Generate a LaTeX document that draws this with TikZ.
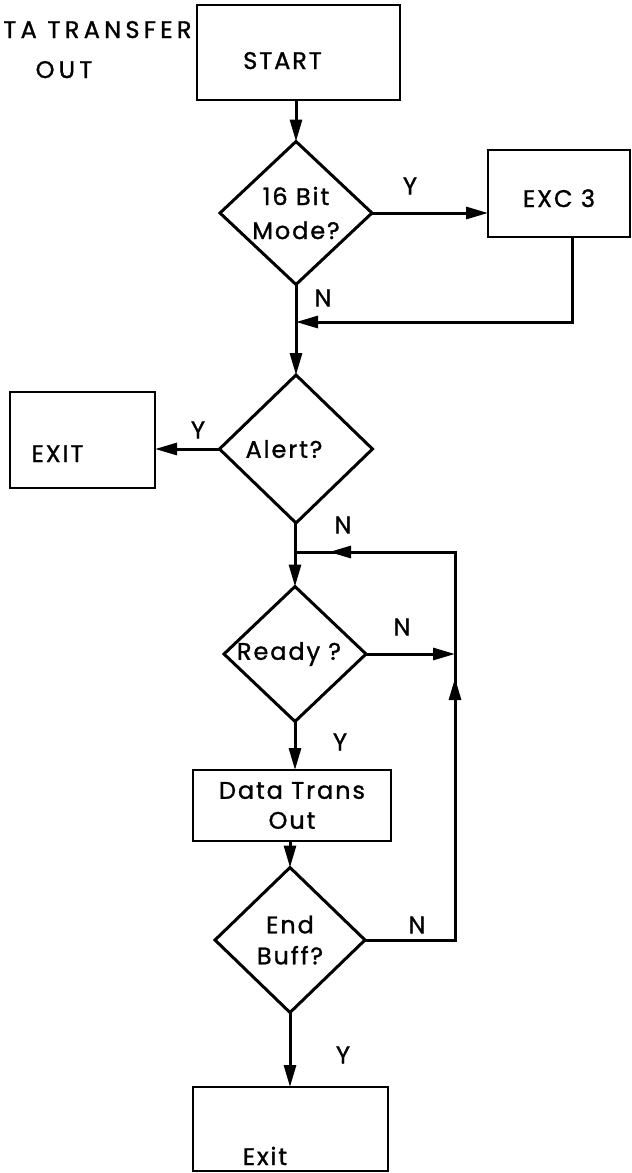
\documentclass[tikz,border=0pt]{standalone}
\usepackage{fontspec}
\setmainfont{Poppins}[LetterSpace=8,FakeBold=1.2]
\newfontfamily\titlefont{Poppins}[LetterSpace=18,FakeBold=1.2]
\usetikzlibrary{shapes.geometric,arrows.meta,decorations.markings}
\begin{document}
\begin{tikzpicture}[x=1pt,y=-1pt,
  line width=3pt,
  every node/.style={font=\fontsize{24}{34}\selectfont},
  box/.style={draw,rectangle,inner sep=0pt,outer sep=0pt,line width=2.8pt},
  dia/.style={draw,diamond,inner sep=-60pt,outer sep=0pt,line width=3pt,align=center},
  tip/.style={-{Triangle[length=22pt,width=12pt]}},
  lab/.style={inner sep=0pt},
  looparrows/.style={postaction={decorate},decoration={markings,
     mark=at position 352pt with {\arrow{Triangle[length=22pt,width=12pt]}},
     mark=at position 604pt with {\arrow{Triangle[length=22pt,width=12pt]}}}}
]
\useasboundingbox (0,0) rectangle (632,1173);

% title
\node[lab, anchor=base east, font=\titlefont\fontsize{24}{34}\selectfont] (t1) at (193,38) {TA TRANSFER};
\node[lab, anchor=base, font=\titlefont\fontsize{24}{34}\selectfont] (t2) at (64,78) {OUT};

% boxes
\node[box, minimum width=203pt, minimum height=95pt, text height=64pt, text depth=31pt] (start) at (298.5,52.5) {START\hspace*{32pt}};
\node[box, minimum width=142pt, minimum height=87pt, text height=57pt, text depth=30pt] (exc) at (559,193.5) {EXC~3};
\node[box, minimum width=145pt, minimum height=96pt, text height=70pt, text depth=26pt] (exit1) at (82.5,440) {EXIT\hspace*{50pt}};
\node[box, minimum width=198pt, minimum height=71pt, align=center, font=\fontsize{24}{30}\selectfont] (dto) at (292,805.5) {Data Trans\\Out};
\node[box, minimum width=195pt, minimum height=84pt, text height=78pt, text depth=6pt] (exit2) at (290.5,1129) {Exit\hspace*{51pt}};

% decisions
\node[dia, minimum width=152pt, minimum height=143pt, font=\fontsize{24}{34}\selectfont] (d1) at (296,213) {16 Bit\\Mode?};
\node[dia, minimum width=153pt, minimum height=148pt] (alert) at (296,449) {Alert?\hspace*{24pt}};
\node[dia, minimum width=142pt, minimum height=135pt] (ready) at (295,654) {Ready ?\hspace*{12pt}};
\node[dia, minimum width=150pt, minimum height=145pt, font=\fontsize{24}{31}\selectfont] (eb) at (290,940) {End\\Buff?};

% helper points
\coordinate (r1) at (572,322);
\coordinate (j1) at (296,322);
\coordinate (lt) at (455,552);
\coordinate (j2) at (295,552);

% connectors
\draw[tip] (d1.north |- start.south) -- (d1.north);
\draw[tip] (d1.east) -- (exc.west |- d1.east) node[lab] at (410,186) {Y};
\draw[tip] (r1 |- exc.south) -- (r1) -- (j1);
\draw[tip] (d1.south) -- (alert.north) node[lab] at (323,298) {N};
\draw[tip] (alert.west) -- (alert.west -| exit1.east) node[lab] at (198,430) {Y};
\draw[tip] (alert.south) -- (ready.north |- alert.south) -- (ready.north) node[lab] at (343,525) {N};
\draw[looparrows] (eb.east) -- (eb.east -| lt) -- (lt) -- (j2) node[lab] at (417,925) {N};
\draw[tip] (ready.east) -- (ready.east -| lt) node[lab] at (402,627) {N};
\draw[tip] (ready.south) -- (ready.south |- dto.north) node[lab] at (340,742) {Y};
\draw[tip] (eb.north |- dto.south) -- (eb.north);
\draw[tip] (eb.south) -- (eb.south |- exit2.north) node[lab] at (343,1055) {Y};
\end{tikzpicture}
\end{document}
